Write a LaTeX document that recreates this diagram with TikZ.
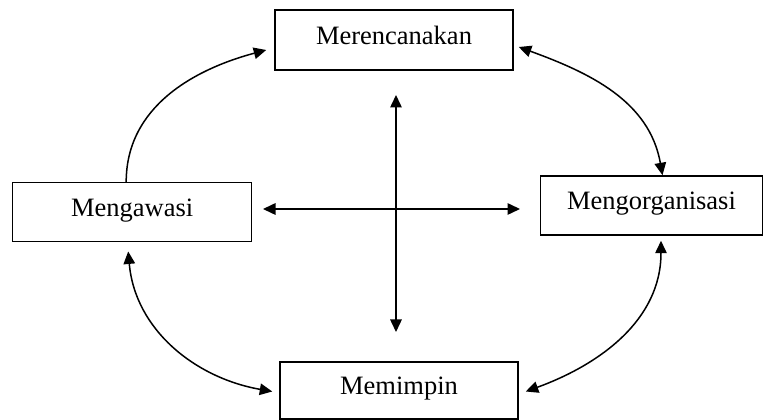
\documentclass[tikz,border=0pt]{standalone}
\usepackage{fontspec}
\setmainfont{Liberation Serif}
\usetikzlibrary{arrows.meta}
\tikzset{%
    every node/.style={draw, rectangle, inner sep=0pt, text height=17.5pt,
    	text depth=9pt, font=\fontsize{26.5}{30}\selectfont},
    cross/.style={shape=coordinate}
}

\begin{document}
\begin{tikzpicture}[x=1pt, y=1pt, line width=1.5pt,
    >={Triangle[length=12.5pt, width=11.5pt]}]
  \useasboundingbox (0,0) rectangle (764,420);

  \node (plan) [minimum width=238pt, minimum height=60pt] at (394, 380) {Merencanakan};
  \node (control) [minimum width=239pt, minimum height=59pt] at (132.2, 207.8) {Mengawasi};
  \node (organize) [minimum width=222pt, minimum height=59pt] at (651.5, 214.5) {Mengorganisasi};
  \node (lead) [minimum width=238pt, minimum height=57pt] at (399, 29.5) {Memimpin};

  \coordinate (vtop) at (396, 325);
  \coordinate (vbot) at (396, 88);
  \coordinate (hleft) at (263, 211);
  \coordinate (hright) at (520, 211);

  \draw [<->] (vtop) -- (vbot);
  \draw [<->] (hleft) -- (hright);

  \draw [->] ([xshift=-6pt]control.north) to [out=90, in=195] ([xshift=-8pt, yshift=-10pt]plan.west);
  \draw [<->] ([xshift=5pt, yshift=-7pt]plan.east) to [out=-20, in=100] ([xshift=11pt]organize.north);
  \draw [<->] ([xshift=9.5pt, yshift=-5pt]organize.south) to [out=-90, in=20] ([xshift=7pt, yshift=-1pt]lead.east);
  \draw [<->] ([xshift=-4pt, yshift=-9pt]control.south) to [out=-85, in=170] ([xshift=-7pt, yshift=-1pt]lead.west);
\end{tikzpicture}
\end{document}
